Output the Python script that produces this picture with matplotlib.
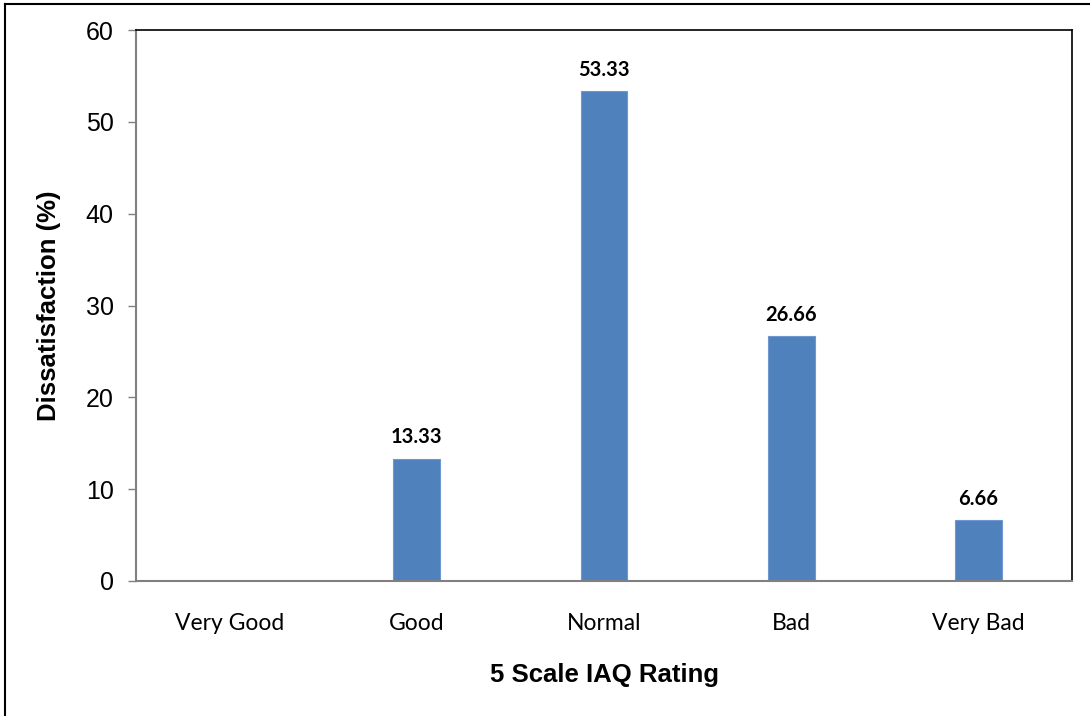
import matplotlib.pyplot as plt
from matplotlib.lines import Line2D

# survey results
ratings = ['Very Good', 'Good', 'Normal', 'Bad', 'Very Bad']
dissatisfaction = [0, 13.33, 53.33, 26.66, 6.66]
labels = ['', '13.33', '53.33', '26.66', '6.66']

fig = plt.figure(figsize=(10.9, 7.16), dpi=100)
ax = fig.add_axes([136/1090, 1 - 581/716, (1072-136)/1090, (581-30)/716])

x = range(len(ratings))
bars = ax.bar(x, dissatisfaction, width=0.25, color='#4F81BD', edgecolor='#6E98CF', linewidth=0.8, zorder=2)

for b, txt in zip(bars, labels):
    if txt:
        ax.annotate(txt, (b.get_x() + b.get_width()/2, b.get_height()), xytext=(0, 8),
                    textcoords='offset points', ha='center', va='bottom',
                    fontsize=14.5, fontweight='bold', family='Lato')

ax.set_xlim(-0.5, 4.5)
ax.set_ylim(0, 60)
ax.set_yticks(range(0, 61, 10))
ax.set_xticks(list(x))
ax.set_xticklabels(ratings, family='Lato', fontsize=16.5)
ax.tick_params(axis='x', length=0, pad=23)
ax.tick_params(axis='y', length=6, width=1, color='#808080', labelsize=18, pad=10)
for t in ax.get_yticklabels():
    t.set_family('Liberation Sans')

ax.spines['left'].set_color('#808080')
ax.spines['bottom'].set_color('#808080')
ax.spines['left'].set_linewidth(1.5)
ax.spines['bottom'].set_linewidth(1.5)
ax.spines['top'].set_color('black')
ax.spines['right'].set_color('black')
ax.spines['top'].set_linewidth(1.2)
ax.spines['right'].set_linewidth(1.2)

ax.set_ylabel('Dissatisfaction (%)', family='Liberation Sans', fontweight='bold', fontsize=18.5, labelpad=18)
ax.set_xlabel('5 Scale IAQ Rating', family='Liberation Sans', fontweight='bold', fontsize=18.5, labelpad=21)

# outer frame of the chart
fig.add_artist(Line2D([5/1090, 5/1090], [0, 1 - 4/716], color='black', lw=1.5, transform=fig.transFigure))
fig.add_artist(Line2D([5/1090, 1], [1 - 4/716, 1 - 4/716], color='black', lw=1.5, transform=fig.transFigure))

fig.savefig('out.png', dpi=100)
